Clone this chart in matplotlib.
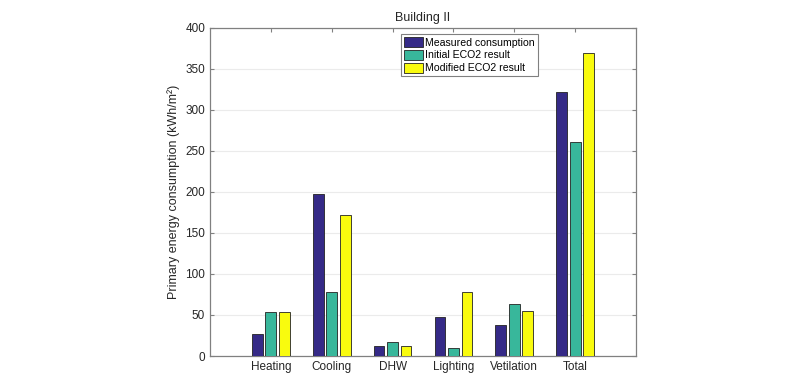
import matplotlib
matplotlib.use("Agg")
import matplotlib.pyplot as plt
import numpy as np

categories = ["Heating", "Cooling", "DHW", "Lighting", "Vetilation", "Total"]
measured = [26.5, 197.6, 12.2, 47.6, 38.2, 322]
initial = [54, 78.4, 17, 9.3, 63.8, 261.4]
modified = [54, 171.6, 11.8, 77.7, 55.3, 369]
series_names = ["Measured consumption", "Initial ECO2 result", "Modified ECO2 result"]
colors = ["#352A87", "#38B79B", "#F9FB0E"]

plt.rcParams["font.family"] = ["Liberation Sans", "DejaVu Sans"]

fig = plt.figure(figsize=(8, 3.78), dpi=100)
ax = fig.add_axes([0.2625, 0.0582, 0.5325, 0.8678])

x = np.arange(1, len(categories) + 1)
spacing = 0.222
width = 0.178
for i, (vals, name, c) in enumerate(zip([measured, initial, modified], series_names, colors)):
    ax.bar(x + (i - 1) * spacing, vals, width=width, color=c, edgecolor="#222222",
           linewidth=0.6, label=name, zorder=3)

ax.set_xlim(0, 7)
ax.set_ylim(0, 400)
ax.set_xticks(x)
ax.set_xticklabels(categories)
ax.set_yticks(np.arange(0, 401, 50))
ax.yaxis.grid(True, color="#ebebeb", linewidth=0.8, zorder=0)
ax.set_axisbelow(True)
ax.tick_params(direction="in", top=True, right=True, labelsize=8.5, length=3,
               color="#808080", width=0.8, labelcolor="#262626")
for s in ax.spines.values():
    s.set_color("#808080")
    s.set_linewidth(0.9)

ax.set_ylabel("Primary energy consumption (kWh/m²)", fontsize=9, color="#262626")
ax.set_title("Building II", fontsize=9, pad=5, color="#262626")

leg = ax.legend(loc="upper left", bbox_to_anchor=(0.448, 0.982), borderaxespad=0,
                fontsize=7.6, fancybox=False, framealpha=1, edgecolor="#808080",
                handlelength=1.8, handleheight=1.1, handletextpad=0.2,
                labelspacing=0.2, borderpad=0.3)
leg.get_frame().set_linewidth(0.8)

fig.savefig("out.png", dpi=100)
